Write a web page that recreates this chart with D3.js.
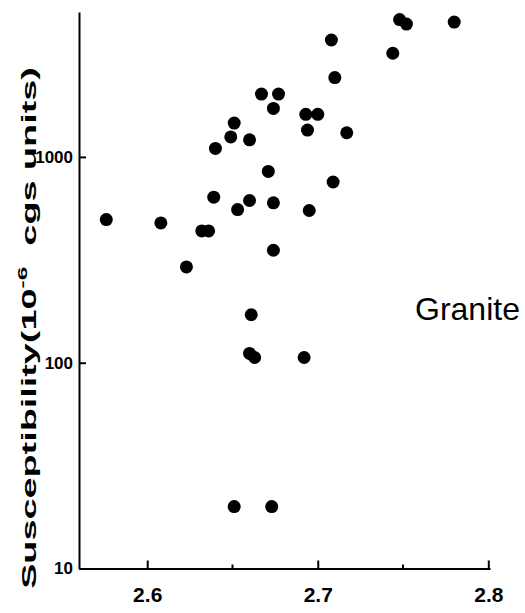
<!DOCTYPE html>
<html>
<head>
<meta charset="utf-8">
<script src="https://d3js.org/d3.v7.min.js"></script>
<style>
  body { margin: 0; background: #fff; }
  svg { display: block; font-family: "Liberation Sans", Arial, sans-serif; }
</style>
</head>
<body>
<div class="canvas"></div>
<script>
var width = 525, height = 613;

// density (g/cc) and susceptibility (10^-6 cgs)
var density = [2.748, 2.752, 2.780, 2.708, 2.744, 2.710, 2.667, 2.677, 2.674, 2.693,
               2.700, 2.651, 2.694, 2.717, 2.649, 2.660, 2.640, 2.671, 2.709, 2.639,
               2.660, 2.674, 2.653, 2.695, 2.576, 2.608, 2.632, 2.636, 2.674, 2.623,
               2.661, 2.660, 2.663, 2.692, 2.651, 2.673];
var suscept = [4650, 4420, 4520, 3700, 3190, 2430, 2020, 2020, 1720, 1610,
               1610, 1460, 1350, 1310, 1250, 1210, 1100, 850, 755, 637,
               614, 598, 555, 549, 496, 478, 437, 437, 352, 292,
               171, 111, 106, 106, 20, 20];

var xTicks = [2.6, 2.7, 2.8];
var xMinor = [2.65, 2.75];
var yTicks = [10, 100, 1000];

var svg = d3.select(".canvas").append("svg")
    .attr("width", width)
    .attr("height", height);

var x = d3.scaleLinear().domain([2.56, 2.801]).range([79, 490]);
var y = d3.scaleLog().domain([10, 5060]).range([568.5, 12]);

// x axis
var xAxis = svg.append("g")
    .attr("transform", "translate(0," + y(10) + ")")
    .call(d3.axisBottom(x).tickValues(xTicks).tickSize(-8).tickSizeOuter(0)
        .tickFormat(d3.format(".1f")));
xAxis.select(".domain").attr("stroke", "#000").attr("stroke-width", 2);
xAxis.selectAll(".tick line").attr("stroke-width", 2);
xAxis.selectAll(".tick text")
    .attr("y", 19)
    .attr("font-size", 21)
    .attr("font-weight", "bold")
    .attr("fill", "#000");

svg.append("g")
    .attr("transform", "translate(0," + y(10) + ")")
    .selectAll("line").data(xMinor)
  .enter().append("line")
    .attr("x1", function(d) { return x(d); })
    .attr("x2", function(d) { return x(d); })
    .attr("y1", 0)
    .attr("y2", -4)
    .attr("stroke", "#000")
    .attr("stroke-width", 2);

// y axis
var yAxis = svg.append("g")
    .attr("transform", "translate(" + x.range()[0] + ",0)")
    .call(d3.axisLeft(y).tickValues(yTicks).tickSize(-7).tickSizeOuter(0)
        .tickFormat(d3.format("d")));
yAxis.select(".domain").attr("stroke", "#000").attr("stroke-width", 2);
yAxis.selectAll(".tick line").attr("stroke-width", 2);
yAxis.selectAll(".tick text")
    .attr("x", -6)
    .attr("font-size", 17)
    .attr("font-weight", "bold")
    .attr("fill", "#000");

// points
svg.append("g").selectAll("circle")
    .data(density.map(function(d, i) { return [d, suscept[i]]; }))
  .enter().append("circle")
    .attr("cx", function(d) { return x(d[0]); })
    .attr("cy", function(d) { return y(d[1]); })
    .attr("r", 6.5)
    .attr("fill", "#000");

// y title, stretched along its length like the original
var title = svg.append("text")
    .attr("font-size", 20)
    .attr("font-weight", "bold")
    .attr("fill", "#000");
title.append("tspan").text("Susceptibility(10");
title.append("tspan").attr("font-size", 13).attr("dy", -9).text("-6");
title.append("tspan").attr("dy", 9).text("\u00a0\u00a0cgs units)");
var len = title.node().getComputedTextLength();
var sx = 522 / len;
title.attr("text-anchor", "middle")
    .attr("transform", "translate(36,328) rotate(-90) scale(" + sx + ",1)");

svg.append("text")
    .attr("x", 415)
    .attr("y", 320)
    .attr("font-size", 32)
    .attr("fill", "#000")
    .text("Granite");
</script>
</body>
</html>
